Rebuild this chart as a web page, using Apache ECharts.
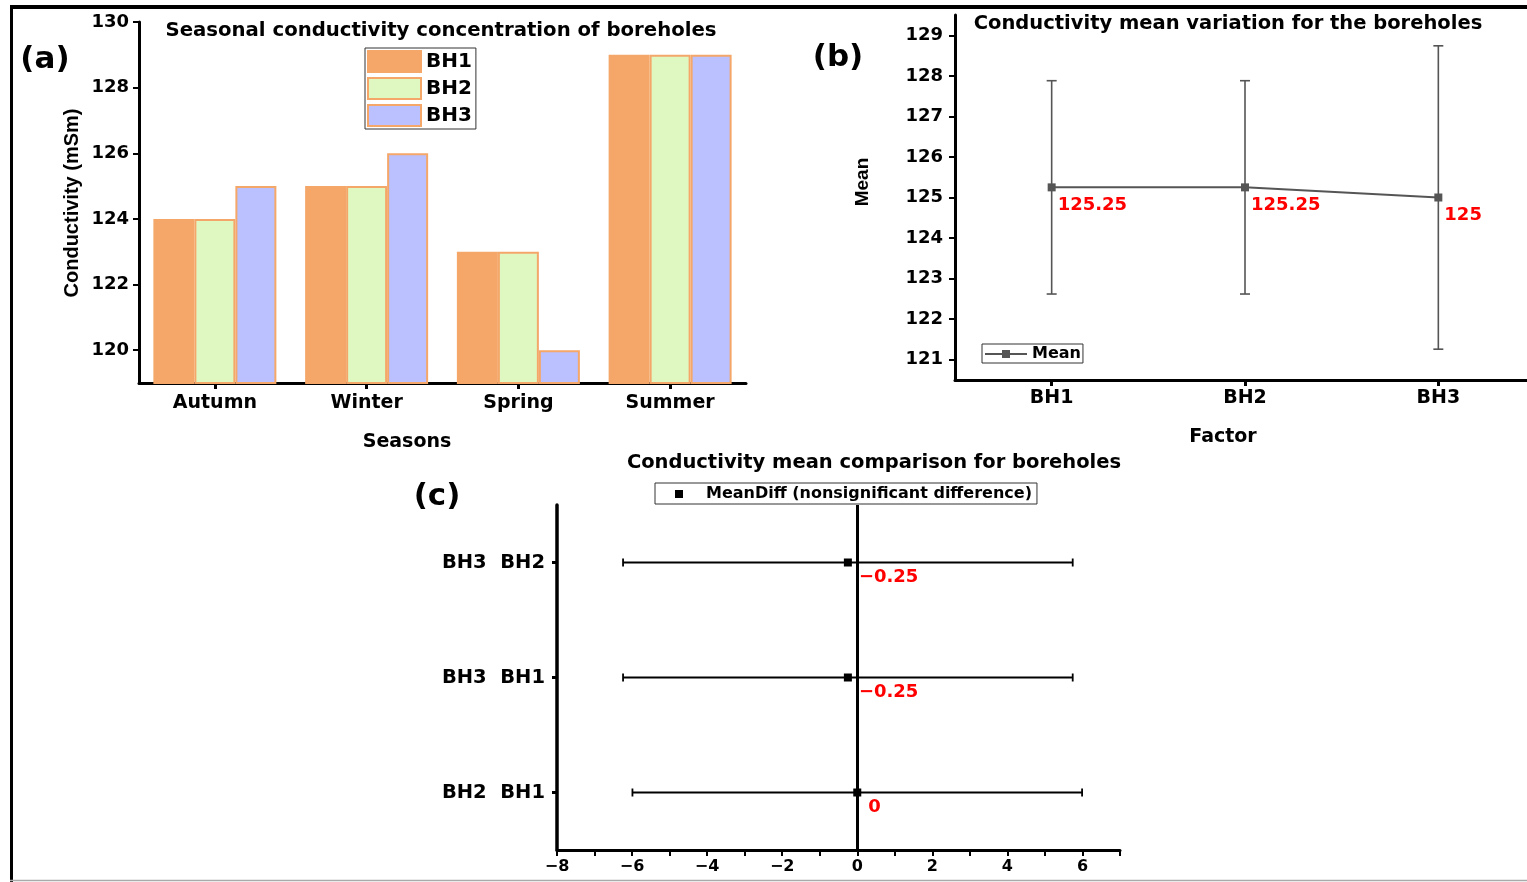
<!DOCTYPE html>
<html>
<head>
<meta charset="utf-8">
<script src="https://cdn.jsdelivr.net/npm/echarts@6/dist/echarts.min.js"></script>
<style>
html,body{margin:0;padding:0;background:#fff;}
#main{width:1527px;height:882px;}
</style>
</head>
<body>
<div id="main"></div>
<script>
// ---- Data ----
const seasons = ['Autumn', 'Winter', 'Spring', 'Summer'];
const bh1 = [124, 125, 123, 129];
const bh2 = [124, 125, 123, 129];
const bh3 = [125, 126, 120, 129];
const aTicks = [120, 122, 124, 126, 128, 130];

const factors = ['BH1', 'BH2', 'BH3'];
const means = [125.25, 125.25, 125];
const meanLow = [122.62, 122.62, 121.26];
const meanHigh = [127.88, 127.88, 128.74];
const bTicks = [121, 122, 123, 124, 125, 126, 127, 128, 129];

const pairs = ['BH2  BH1', 'BH3  BH1', 'BH3  BH2'];
const meanDiff = [0, -0.25, -0.25];
const ciLow = [-5.99, -6.24, -6.24];
const ciHigh = [5.99, 5.74, 5.74];
const cTicks = [-8, -6, -4, -2, 0, 2, 4, 6];
const cMinorTicks = [-8, -7, -6, -5, -4, -3, -2, -1, 0, 1, 2, 3, 4, 5, 6, 7];

const FONT = 'DejaVu Sans';
const ORANGE = '#F4A769';
const chart = echarts.init(document.getElementById('main'), null, {renderer: 'canvas'});

function txt(text, x, y, size, opts) {
  opts = opts || {};
  return {
    type: 'text', x: x, y: y, rotation: opts.rot || 0, silent: true,
    style: {
      text: text, x: 0, y: 0, fill: opts.color || '#000',
      font: 'bold ' + size + 'px "' + (opts.family || FONT) + '"',
      align: opts.align || 'center', verticalAlign: 'middle'
    }
  };
}
const minus = v => String(v).replace('-', '\u2212');

const axisLineStyle = {show: true, onZero: false, lineStyle: {color: '#000', width: 3}};
const labelStyle = (s) => ({color: '#000', fontFamily: FONT, fontWeight: 'bold', fontSize: s});

const option = {
  backgroundColor: '#fff',
  animation: false,
  grid: [
    {left: 139, top: 22, width: 607, height: 361, outerBoundsMode: 'none', containLabel: false},
    {left: 955, top: 15, width: 580, height: 365, outerBoundsMode: 'none', containLabel: false},
    {left: 557, top: 505, width: 563, height: 345, outerBoundsMode: 'none', containLabel: false}
  ],
  xAxis: [
    {
      gridIndex: 0, type: 'category', data: seasons, boundaryGap: true,
      axisLine: axisLineStyle,
      axisTick: {show: true, alignWithLabel: true, length: 6, lineStyle: {width: 3, color: '#000'}},
      axisLabel: Object.assign(labelStyle(19), {margin: 11}),
      splitLine: {show: false}
    },
    {
      gridIndex: 1, type: 'category', data: factors, boundaryGap: true,
      axisLine: axisLineStyle,
      axisTick: {show: true, alignWithLabel: true, length: 6, lineStyle: {width: 3, color: '#000'}},
      axisLabel: Object.assign(labelStyle(19), {margin: 9}),
      splitLine: {show: false}
    },
    {
      gridIndex: 2, type: 'value', min: -8, max: 7,
      axisLine: axisLineStyle,
      axisTick: {show: true, length: 6, customValues: cMinorTicks, lineStyle: {width: 2, color: '#000'}},
      axisLabel: Object.assign(labelStyle(16), {margin: 9, customValues: cTicks, formatter: v => minus(v)}),
      splitLine: {show: false}
    }
  ],
  yAxis: [
    {
      gridIndex: 0, type: 'value', min: 119, max: 130,
      axisLine: axisLineStyle,
      axisTick: {show: true, length: 6, customValues: aTicks, lineStyle: {width: 2, color: '#000'}},
      axisLabel: Object.assign(labelStyle(18), {margin: 10, customValues: aTicks}),
      splitLine: {show: false}
    },
    {
      gridIndex: 1, type: 'value', min: 120.5, max: 129.5,
      axisLine: axisLineStyle,
      axisTick: {show: true, length: 6, customValues: bTicks, lineStyle: {width: 2, color: '#000'}},
      axisLabel: Object.assign(labelStyle(18), {margin: 12, customValues: bTicks}),
      splitLine: {show: false}
    },
    {
      gridIndex: 2, type: 'category', data: pairs, boundaryGap: true,
      axisLine: {show: true, onZero: false, lineStyle: {color: '#000', width: 3.5}},
      axisTick: {show: true, alignWithLabel: true, length: 5, lineStyle: {width: 3, color: '#000'}},
      axisLabel: Object.assign(labelStyle(19.5), {margin: 12}),
      splitLine: {show: false}
    }
  ],
  legend: [
    {
      data: ['BH1', 'BH2', 'BH3'], orient: 'vertical', left: 365, top: 48,
      icon: 'rect',
      itemWidth: 53, itemHeight: 21, itemGap: 4, padding: [2, 4, 2, 2],
      borderColor: '#333', borderWidth: 1,
      textStyle: labelStyle(20)
    },
    {
      data: ['Mean'], left: 982, top: 344, itemWidth: 42, itemHeight: 10,
      padding: [2, 2, 1, 2], borderColor: '#333', borderWidth: 1,
      textStyle: labelStyle(16)
    },
    {
      data: [{name: 'MeanDiff (nonsignificant difference)', icon: 'rect'}], left: 655, top: 483,
      itemWidth: 8, itemHeight: 8, padding: [3, 5, 2, 20], borderColor: '#333', borderWidth: 1,
      textStyle: Object.assign(labelStyle(16), {padding: [0, 0, 0, 18]})
    }
  ],
  series: [
    {
      name: 'BH1', type: 'bar', xAxisIndex: 0, yAxisIndex: 0, data: bh1,
      barWidth: 41, barGap: '0%',
      itemStyle: {color: ORANGE, borderColor: ORANGE, borderWidth: 2}
    },
    {
      name: 'BH2', type: 'bar', xAxisIndex: 0, yAxisIndex: 0, data: bh2,
      barWidth: 41, barGap: '0%',
      itemStyle: {color: '#DFF7C0', borderColor: ORANGE, borderWidth: 2}
    },
    {
      name: 'BH3', type: 'bar', xAxisIndex: 0, yAxisIndex: 0, data: bh3,
      barWidth: 41, barGap: '0%',
      itemStyle: {color: '#BAC1FE', borderColor: ORANGE, borderWidth: 2}
    },
    {
      name: 'MeanErr', type: 'custom', xAxisIndex: 1, yAxisIndex: 1,
      data: factors.map((f, i) => [i, meanLow[i], meanHigh[i]]),
      encode: {x: 0, y: [1, 2]},
      z: 3,
      renderItem: function (params, api) {
        const lo = api.coord([api.value(0), api.value(1)]);
        const hi = api.coord([api.value(0), api.value(2)]);
        const w = 5;
        const st = {stroke: '#555', lineWidth: 1.6};
        return {type: 'group', children: [
          {type: 'line', shape: {x1: lo[0], y1: lo[1], x2: hi[0], y2: hi[1]}, style: st},
          {type: 'line', shape: {x1: lo[0] - w, y1: lo[1], x2: lo[0] + w, y2: lo[1]}, style: st},
          {type: 'line', shape: {x1: hi[0] - w, y1: hi[1], x2: hi[0] + w, y2: hi[1]}, style: st}
        ]};
      }
    },
    {
      name: 'Mean', type: 'line', xAxisIndex: 1, yAxisIndex: 1, data: means,
      symbol: 'rect', symbolSize: 8, z: 5,
      lineStyle: {color: '#555', width: 2},
      itemStyle: {color: '#555'},
      label: {
        show: true, position: 'right', distance: 2, offset: [0, 18],
        color: '#FF0000', fontFamily: FONT, fontWeight: 'bold', fontSize: 18
      }
    },
    {
      name: 'CI', type: 'custom', xAxisIndex: 2, yAxisIndex: 2,
      data: pairs.map((p, i) => [ciLow[i], ciHigh[i], i]),
      encode: {x: [0, 1], y: 2},
      z: 3,
      renderItem: function (params, api) {
        const lo = api.coord([api.value(0), api.value(2)]);
        const hi = api.coord([api.value(1), api.value(2)]);
        const h = 4;
        const st = {stroke: '#000', lineWidth: 1.8};
        return {type: 'group', children: [
          {type: 'line', shape: {x1: lo[0], y1: lo[1], x2: hi[0], y2: hi[1]}, style: st},
          {type: 'line', shape: {x1: lo[0], y1: lo[1] - h, x2: lo[0], y2: lo[1] + h}, style: st},
          {type: 'line', shape: {x1: hi[0], y1: hi[1] - h, x2: hi[0], y2: hi[1] + h}, style: st}
        ]};
      }
    },
    {
      name: 'MeanDiff (nonsignificant difference)', type: 'scatter', xAxisIndex: 2, yAxisIndex: 2,
      data: meanDiff.map((d, i) => [d, i]),
      symbol: 'rect', symbolSize: 8, z: 6,
      itemStyle: {color: '#000', opacity: 1},
      label: {
        show: true, position: 'right', distance: 5, offset: [2, 15],
        color: '#FF0000', opacity: 1, fontFamily: FONT, fontWeight: 'bold', fontSize: 18,
        formatter: p => minus(p.value[0])
      },
      markLine: {
        silent: true, symbol: 'none', label: {show: false},
        lineStyle: {color: '#000', width: 3, type: 'solid', opacity: 1},
        data: [{xAxis: 0}]
      }
    }
  ],
  graphic: [
    // outer frame
    {type: 'line', silent: true, shape: {x1: 10, y1: 7, x2: 1527, y2: 7}, style: {stroke: '#000', lineWidth: 4}},
    {type: 'line', silent: true, shape: {x1: 11.5, y1: 5, x2: 11.5, y2: 882}, style: {stroke: '#000', lineWidth: 3}},
    {type: 'line', silent: true, shape: {x1: 10, y1: 880.5, x2: 1527, y2: 880.5}, style: {stroke: '#aaa', lineWidth: 1.5}},
    // panel letters
    txt('(a)', 45, 60, 31),
    txt('(b)', 838, 58, 31),
    txt('(c)', 437, 497, 31),
    // titles
    txt('Seasonal conductivity concentration of boreholes', 441, 31, 19.7),
    txt('Conductivity mean variation for the boreholes', 1228, 24, 19.5),
    txt('Conductivity mean comparison for boreholes', 874, 463, 19.5),
    // axis names
    txt('Conductivity (mSm)', 72, 203, 20, {rot: Math.PI / 2, family: 'Liberation Sans'}),
    txt('Seasons', 407, 442, 19),
    txt('Mean', 863, 182, 19, {rot: Math.PI / 2, family: 'Liberation Sans'}),
    txt('Factor', 1223, 437, 19)
  ]
};
chart.setOption(option);
</script>
</body>
</html>
